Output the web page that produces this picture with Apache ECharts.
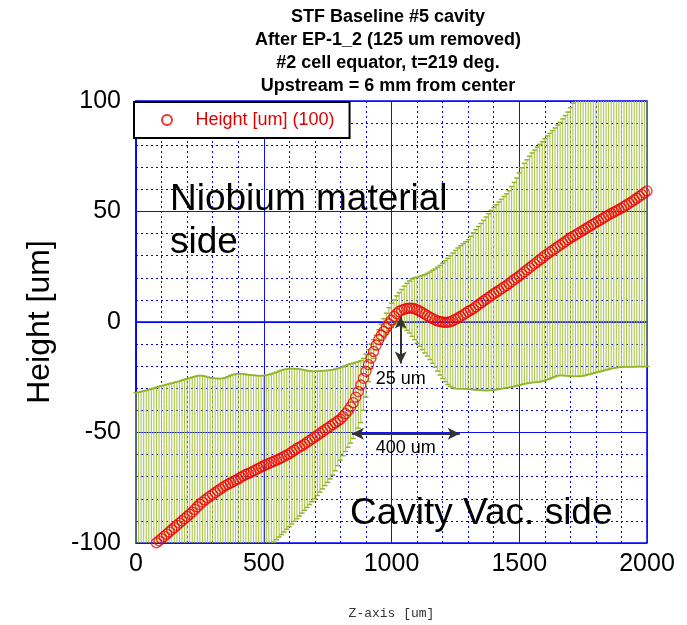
<!DOCTYPE html>
<html>
<head>
<meta charset="utf-8">
<title>STF Baseline #5 cavity</title>
<script src="https://cdn.jsdelivr.net/npm/echarts@6.0.0/dist/echarts.min.js"></script>
<style>
html, body { margin: 0; padding: 0; background: #fff; }
#main { width: 687px; height: 625px; }
</style>
</head>
<body>
<div id="main"></div>
<script>
// z position of every measured point [um]
var zUm = [
    0, 10, 20, 30, 40, 50, 60, 70, 80, 90,
    100, 110, 120, 130, 140, 150, 160, 170, 180, 190,
    200, 210, 220, 230, 240, 250, 260, 270, 280, 290,
    300, 310, 320, 330, 340, 350, 360, 370, 380, 390,
    400, 410, 420, 430, 440, 450, 460, 470, 480, 490,
    500, 510, 520, 530, 540, 550, 560, 570, 580, 590,
    600, 610, 620, 630, 640, 650, 660, 670, 680, 690,
    700, 710, 720, 730, 740, 750, 760, 770, 780, 790,
    800, 810, 820, 830, 840, 850, 860, 870, 880, 890,
    900, 910, 920, 930, 940, 950, 960, 970, 980, 990,
    1000, 1010, 1020, 1030, 1040, 1050, 1060, 1070, 1080, 1090,
    1100, 1110, 1120, 1130, 1140, 1150, 1160, 1170, 1180, 1190,
    1200, 1210, 1220, 1230, 1240, 1250, 1260, 1270, 1280, 1290,
    1300, 1310, 1320, 1330, 1340, 1350, 1360, 1370, 1380, 1390,
    1400, 1410, 1420, 1430, 1440, 1450, 1460, 1470, 1480, 1490,
    1500, 1510, 1520, 1530, 1540, 1550, 1560, 1570, 1580, 1590,
    1600, 1610, 1620, 1630, 1640, 1650, 1660, 1670, 1680, 1690,
    1700, 1710, 1720, 1730, 1740, 1750, 1760, 1770, 1780, 1790,
    1800, 1810, 1820, 1830, 1840, 1850, 1860, 1870, 1880, 1890,
    1900, 1910, 1920, 1930, 1940, 1950, 1960, 1970, 1980, 1990,
    2000
];

// measured height [um]
var heightUm = [
    -107, -106.2, -105.4, -104.5, -103.6, -102.7, -101.8, -100.8, -99.9, -99,
    -98, -97, -96, -95, -94, -93, -92, -91, -90, -89,
    -88, -87, -86, -84.8, -83.6, -82.5, -81.5, -80.5, -79.6, -78.8,
    -78, -77.2, -76.4, -75.6, -74.8, -74, -73.4, -72.8, -72.2, -71.6,
    -71, -70.3, -69.6, -69, -68.5, -68, -67.4, -66.8, -66.2, -65.6,
    -65, -64.5, -64, -63.5, -63, -62.5, -62, -61.4, -60.8, -60.2,
    -59.6, -58.8, -58, -57.2, -56.6, -56, -55.2, -54.4, -53.6, -52.8,
    -52, -51.2, -50.4, -49.6, -48.8, -48, -47.2, -46.4, -45.6, -44.8,
    -44, -42.8, -41.5, -40, -38.4, -36.5, -34, -31.5, -28.5, -25.5,
    -22.3, -19.3, -16.3, -13.3, -10.5, -8, -6, -4.2, -2.5, -0.8,
    0.8, 2.5, 3.8, 4.8, 5.4, 5.8, 6.1, 6.3, 6.3, 6,
    5.5, 5, 4.3, 3.6, 2.9, 2.2, 1.6, 1, 0.5, 0.2,
    0, -0.2, -0.1, 0.1, 0.6, 1.2, 1.8, 2.5, 3.2, 4,
    4.8, 5.4, 6, 6.9, 7.8, 8.6, 9.5, 10.3, 11.1, 11.9,
    12.8, 13.5, 14.2, 15, 15.8, 16.5, 17.4, 18.3, 19.2, 20,
    20.8, 21.7, 22.7, 23.6, 24.5, 25.4, 26.3, 27.2, 28.1, 29,
    30, 30.8, 31.6, 32.4, 33.2, 34, 34.8, 35.6, 36.4, 37.2,
    38, 38.7, 39.4, 40.1, 40.8, 41.5, 42.2, 42.9, 43.6, 44.3,
    45, 45.7, 46.4, 47.1, 47.8, 48.5, 49.1, 49.7, 50.3, 50.9,
    51.5, 52.3, 53, 53.7, 54.4, 55.2, 56, 56.8, 57.6, 58.5,
    59.3
];

// top end of each error bar [um]
var upperUm = [
    -32, -31.8, -31.5, -31.2, -31, -30.6, -30.3, -30, -29.6, -29.2,
    -28.9, -28.6, -28.3, -28, -27.7, -27.4, -27.1, -26.8, -26.4, -26,
    -25.7, -25.4, -25, -24.7, -24.4, -24.2, -24.3, -24.6, -24.9, -25.2,
    -25.4, -25.5, -25.6, -25.6, -25.5, -25.2, -24.7, -24.2, -23.8, -23.5,
    -23.4, -23.4, -23.5, -23.7, -23.9, -24, -24.1, -24.2, -24.3, -24.3,
    -24.2, -24, -23.8, -23.5, -23.1, -22.7, -22.2, -21.8, -21.5, -21.3,
    -21.1, -21.1, -21.1, -21.2, -21.3, -21.5, -21.8, -22, -22.2, -22.3,
    -22.3, -22.2, -22.2, -22.1, -22, -21.9, -21.8, -21.6, -21.3, -21,
    -20.7, -20.3, -19.8, -19.3, -18.9, -18.6, -18.3, -18, -17.5, -16.5,
    -14.5, -12.5, -10, -8, -6, -3.5, -1, 1.5, 4, 6.5,
    8.5, 10, 11.8, 13.3, 14.7, 16.2, 17.5, 18.6, 19.5, 20,
    20.3, 20.6, 21, 21.4, 22, 22.6, 23.3, 24, 24.8, 25.6,
    26.6, 27.7, 28.8, 30, 31.2, 32.4, 33.5, 34.5, 35.4, 36.3,
    37.3, 38.8, 40.3, 41.8, 43.2, 44.6, 46, 47.5, 49, 50.5,
    51.8, 53, 54.3, 55.5, 56.8, 58, 59.4, 61.3, 63.2, 65.1,
    67.5, 69.8, 71.8, 73.4, 75, 76.5, 77.8, 79.1, 80.4, 81.6,
    82.9, 84.2, 85.4, 86.6, 87.8, 89.1, 90.4, 91.9, 93.4, 95,
    97, 99, 101, 103, 104.5, 106, 107.5, 109, 110.5, 112,
    113.5, 115, 116.5, 118, 119.5, 121, 122.5, 124, 125.5, 127,
    128.5, 130, 131.5, 133, 134.5, 136, 137.5, 139, 140.5, 142,
    143.5
];

// bottom end of each error bar [um]
var lowerUm = [
    -182, -180, -179, -177, -176, -175, -173, -171, -170, -169,
    -167, -165, -164, -162, -160, -159, -157, -155, -154, -152,
    -150, -148, -147, -145, -143, -141, -139, -137, -134, -132,
    -131, -129, -127, -126, -124, -123, -121, -120, -120, -119,
    -118, -117, -115, -114, -113, -112, -111, -110, -109, -107,
    -106, -104, -103, -101.5, -99.6, -98.5, -97.3, -96.2, -95, -93.8,
    -92.6, -91.4, -90.2, -89, -87.8, -86.5, -85.2, -83.9, -82.6, -81.3,
    -80, -78.5, -77, -75.5, -74, -72.5, -71, -69.3, -67.3, -65,
    -62.5, -60.5, -58.6, -56.7, -54.8, -52.7, -50.4, -48, -45.5, -40,
    -34, -27, -21, -16.5, -12.5, -10, -8.5, -7, -5.5, -4,
    -2.5, -1.2, -0.5, -1, -1.8, -2.6, -3.8, -5, -6.5, -8,
    -9.6, -11, -12.5, -14, -15.4, -17, -18.7, -20.4, -22.2, -24,
    -25.6, -27, -28.3, -29.2, -29.8, -30.1, -30.2, -30.2, -30.2, -30.3,
    -30.4, -30.5, -30.6, -30.7, -30.8, -30.9, -31, -31, -31, -30.9,
    -30.8, -30.6, -30.4, -30.2, -30, -29.8, -29.6, -29.4, -29.2, -28.9,
    -28.6, -28.3, -28, -27.8, -27.6, -27.4, -27.3, -27.2, -27.1, -26.8,
    -26.5, -26.1, -25.7, -25.2, -24.7, -24.3, -24.2, -24.2, -24.3, -24.4,
    -24.5, -24.6, -24.6, -24.6, -24.5, -24.4, -24.1, -23.8, -23.5, -23.2,
    -22.9, -22.6, -22.3, -22, -21.7, -21.4, -21.1, -20.9, -20.7, -20.5,
    -20.4, -20.3, -20.3, -20.3, -20.3, -20.3, -20.2, -20.2, -20.2, -20.2,
    -20.1
];

// annotation arrows: [z, height] of both ends
var arrow25 = [[1036, 2.5], [1036, -18.8]];
var arrow400 = [[845, -50.6], [1267, -50.6]];

var Z_MIN = 0, Z_MAX = 2000, H_MIN = -100, H_MAX = 100;
var FONT = '"Liberation Sans", Arial, sans-serif';
var BAR_COLOR = '#a2c037';
var CAP_COLOR = '#93b42a';

var chart = echarts.init(document.getElementById('main'), null, { renderer: 'canvas' });

var pointData = [];
var barData = [];
for (var i = 0; i < zUm.length; i++) {
    pointData.push([zUm[i], heightUm[i]]);
    barData.push([zUm[i], lowerUm[i], upperUm[i]]);
}

function capLine(p) {
    return {
        type: 'line',
        shape: { x1: p[0] - 2.5, y1: p[1], x2: p[0] + 2.5, y2: p[1] },
        style: { stroke: CAP_COLOR, lineWidth: 1.5 }
    };
}

// vertical error bar with a cap at each end, cut at the plot frame
function renderErrorBar(params, api) {
    var z = api.value(0);
    var lo = api.value(1);
    var hi = api.value(2);
    var pLo = api.coord([z, Math.max(lo, H_MIN)]);
    var pHi = api.coord([z, Math.min(hi, H_MAX)]);
    var children = [{
        type: 'line',
        shape: { x1: pLo[0], y1: pLo[1], x2: pHi[0], y2: pHi[1] },
        style: { stroke: BAR_COLOR, lineWidth: 1.1, opacity: 0.9 }
    }];
    if (hi <= H_MAX) children.push(capLine(pHi));
    if (lo >= H_MIN) children.push(capLine(pLo));
    return { type: 'group', children: children };
}

var axisCommon = {
    axisLine: { show: true, lineStyle: { color: '#0000ff', width: 1.5 } },
    axisTick: { show: false },
    splitLine: { show: true, lineStyle: { color: '#1010ee', width: 1 } },
    minorTick: { show: false, splitNumber: 5 },
    minorSplitLine: { show: true, lineStyle: { color: '#0000ff', width: 1, type: [2, 3] } }
};

var option = {
    backgroundColor: '#ffffff',
    animation: false,
    title: {
        text: 'STF Baseline #5 cavity\nAfter EP-1_2 (125 um removed)\n#2 cell equator, t=219 deg.\nUpstream = 6 mm from center',
        left: 388,
        top: 6,
        textAlign: 'center',
        padding: 0,
        textStyle: { fontFamily: FONT, fontSize: 18, fontWeight: 'bold', lineHeight: 23, color: '#000' }
    },
    legend: {
        data: ['Height [um] (100)'],
        left: 134,
        top: 102,
        orient: 'vertical',
        padding: [9, 15, 9, 27],
        itemWidth: 47,
        itemHeight: 10,
        backgroundColor: '#fff',
        borderColor: '#000',
        borderWidth: 2,
        borderRadius: 0,
        selectedMode: false,
        textStyle: { fontFamily: FONT, fontSize: 18, color: '#e00000' }
    },
    grid: {
        left: 136, right: 40, top: 101, bottom: 75,
        show: true, borderColor: '#0000ff', borderWidth: 1.5
    },
    xAxis: Object.assign({}, axisCommon, {
        type: 'value',
        min: Z_MIN, max: Z_MAX, interval: 500,
        name: 'Z-axis [um]',
        nameLocation: 'middle',
        nameGap: 64,
        nameTextStyle: { fontFamily: '"Liberation Mono", "DejaVu Sans Mono", monospace', fontSize: 13, color: '#333' },
        axisLabel: {
            fontFamily: FONT, fontSize: 25, color: '#000', margin: 9,
            formatter: function (v) { return String(v); }
        }
    }),
    yAxis: Object.assign({}, axisCommon, {
        type: 'value',
        min: H_MIN, max: H_MAX, interval: 50,
        name: 'Height [um]',
        nameLocation: 'middle',
        nameGap: 80,
        nameTextStyle: { fontFamily: FONT, fontSize: 32, color: '#000' },
        axisLabel: {
            fontFamily: FONT, fontSize: 25, color: '#000', margin: 15,
            formatter: function (v) { return String(v); }
        }
    }),
    series: [
        {
            name: 'error',
            type: 'custom',
            renderItem: renderErrorBar,
            data: barData,
            z: 2,
            silent: true
        },
        {
            name: 'Height [um] (100)',
            type: 'scatter',
            data: pointData,
            symbol: 'circle',
            symbolSize: 10,
            z: 5,
            itemStyle: { color: 'rgba(255,255,255,0)', borderColor: '#ee0000', borderWidth: 1.3 },
            markLine: {
                silent: true,
                symbol: ['arrow', 'arrow'],
                symbolSize: [9, 12],
                lineStyle: { color: '#333', width: 2, type: 'solid' },
                label: { fontFamily: FONT, fontSize: 18, color: '#000' },
                data: [
                    [{ coord: arrow25[0] }, { coord: arrow25[1], label: { formatter: '25 um', position: 'end', distance: 6 } }],
                    [{ coord: arrow400[0] }, { coord: arrow400[1], label: { formatter: '400 um', position: 'insideMiddleBottom', distance: 5 } }]
                ]
            }
        }
    ],
    graphic: [
        {
            type: 'text', left: 170, top: 178, z: 10,
            style: { text: 'Niobium material\nside', font: '37px ' + FONT, fill: '#000', lineHeight: 43 }
        },
        {
            type: 'text', left: 350, top: 492, z: 10,
            style: { text: 'Cavity Vac. side', font: '37px ' + FONT, fill: '#000', lineHeight: 43 }
        }
    ]
};

chart.setOption(option);
</script>
</body>
</html>
